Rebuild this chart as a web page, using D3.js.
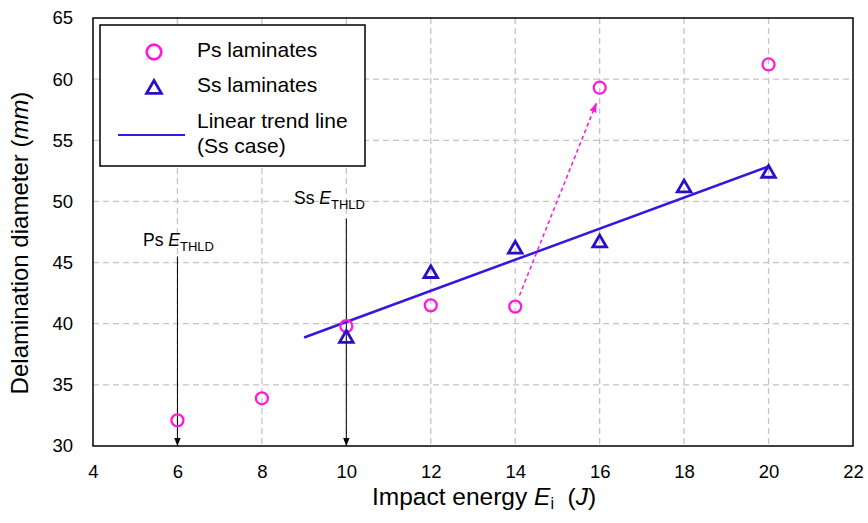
<!DOCTYPE html>
<html>
<head>
<meta charset="utf-8">
<script src="https://cdn.jsdelivr.net/npm/d3@7"></script>
<style>
  html, body { margin: 0; padding: 0; background: #fff; }
  svg { display: block; font-family: "Liberation Sans", Arial, sans-serif; }
</style>
</head>
<body>
<svg id="chart" width="868" height="523"></svg>
<script>
// ---- data ----
const psEnergy = [6, 8, 10, 12, 14, 16, 20];
const psDiameter = [32.1, 33.9, 39.8, 41.5, 41.4, 59.3, 61.2];
const ssEnergy = [10, 12, 14, 16, 18, 20];
const ssDiameter = [38.8, 44.1, 46.1, 46.6, 51.1, 52.3];
const trendRange = [9, 20];
const xTicks = [4, 6, 8, 10, 12, 14, 16, 18, 20, 22];
const yTicks = [30, 35, 40, 45, 50, 55, 60, 65];
const thresholdEnergy = [6, 10];          // Ps, Ss
const thresholdLabelTop = [45.5, 48.6];   // value where arrows start
const jumpArrow = [[14.1, 42.3], [15.93, 58.1]];

// ---- layout ----
const svg = d3.select("#chart");
const x = d3.scaleLinear().domain([4, 22]).range([93, 853]);
const y = d3.scaleLinear().domain([30, 65]).range([446, 18]);

const defs = svg.append("defs");
defs.append("marker").attr("id", "arrBlack").attr("viewBox", "0 0 10 10")
  .attr("refX", 10).attr("refY", 5).attr("markerWidth", 8).attr("markerHeight", 8)
  .attr("markerUnits", "userSpaceOnUse").attr("orient", "auto")
  .append("path").attr("d", "M0,1 L10,5 L0,9 Z").attr("fill", "#000");
defs.append("marker").attr("id", "arrPink").attr("viewBox", "0 0 10 10")
  .attr("refX", 10).attr("refY", 5).attr("markerWidth", 10).attr("markerHeight", 10)
  .attr("markerUnits", "userSpaceOnUse").attr("orient", "auto")
  .append("path").attr("d", "M0,1.5 L10,5 L0,8.5 Z").attr("fill", "#ff1ad9");

// grid
const grid = svg.append("g").attr("stroke", "#c4c4c4").attr("stroke-width", 1.3)
  .attr("stroke-dasharray", "6,4");
grid.selectAll("line.v").data(xTicks.slice(1, -1)).join("line")
  .attr("x1", d => x(d)).attr("x2", d => x(d)).attr("y1", y(65)).attr("y2", y(30));
grid.selectAll("line.h").data(yTicks.slice(1, -1)).join("line")
  .attr("y1", d => y(d)).attr("y2", d => y(d)).attr("x1", x(4)).attr("x2", x(22));

// axes
const xAxis = svg.append("g").attr("transform", `translate(0,${y(30)})`)
  .call(d3.axisBottom(x).tickValues(xTicks).tickSize(0).tickPadding(19).tickFormat(d3.format("d")));
const yAxis = svg.append("g").attr("transform", `translate(${x(4)},0)`)
  .call(d3.axisLeft(y).tickValues(yTicks).tickSize(0).tickPadding(20).tickFormat(d3.format("d")));
[xAxis, yAxis].forEach(a => {
  a.select(".domain").remove();
  a.selectAll("text").attr("font-size", 18.5).attr("fill", "#000")
    .attr("font-family", "Liberation Sans, Arial, sans-serif");
});

// frame
svg.append("rect").attr("x", x(4)).attr("y", y(65))
  .attr("width", x(22) - x(4)).attr("height", y(30) - y(65))
  .attr("fill", "none").attr("stroke", "#000").attr("stroke-width", 1.5);

// threshold arrows
svg.selectAll("line.thr").data(thresholdEnergy).join("line")
  .attr("x1", d => x(d)).attr("x2", d => x(d))
  .attr("y1", (d, i) => y(thresholdLabelTop[i])).attr("y2", y(30))
  .attr("stroke", "#000").attr("stroke-width", 1)
  .attr("marker-end", "url(#arrBlack)");

function thldLabel(px, py, prefix) {
  const t = svg.append("text").attr("x", px).attr("y", py)
    .attr("font-size", 17.5).attr("fill", "#000");
  t.append("tspan").text(prefix + " ");
  t.append("tspan").attr("font-style", "italic").text("E");
  t.append("tspan").attr("font-size", 13).attr("dy", 5).text("THLD");
}
thldLabel(143, 246, "Ps");
thldLabel(294, 204, "Ss");

// linear trend line for Ss (least squares)
const mx = d3.mean(ssEnergy), my = d3.mean(ssDiameter);
const slope = d3.sum(ssEnergy, (e, i) => (e - mx) * (ssDiameter[i] - my)) /
              d3.sum(ssEnergy, e => (e - mx) * (e - mx));
const icpt = my - slope * mx;
svg.append("line")
  .attr("x1", x(trendRange[0])).attr("y1", y(icpt + slope * trendRange[0]))
  .attr("x2", x(trendRange[1])).attr("y2", y(icpt + slope * trendRange[1]))
  .attr("stroke", "#3517dd").attr("stroke-width", 2.5);

// pink dashed jump arrow
svg.append("line")
  .attr("x1", x(jumpArrow[0][0])).attr("y1", y(jumpArrow[0][1]))
  .attr("x2", x(jumpArrow[1][0])).attr("y2", y(jumpArrow[1][1]))
  .attr("stroke", "#ff1ad9").attr("stroke-width", 1.5)
  .attr("stroke-dasharray", "4,3").attr("marker-end", "url(#arrPink)");

// Ps circles
svg.selectAll("circle.ps").data(psEnergy).join("circle")
  .attr("cx", d => x(d)).attr("cy", (d, i) => y(psDiameter[i])).attr("r", 6)
  .attr("fill", "none").attr("stroke", "#ff1ad9").attr("stroke-width", 2.3);

// Ss triangles
const tri = d3.symbol().type(d3.symbolTriangle).size(80);
svg.selectAll("path.ss").data(ssEnergy).join("path")
  .attr("d", tri)
  .attr("transform", (d, i) => `translate(${x(d)},${y(ssDiameter[i])})`)
  .attr("fill", "none").attr("stroke", "#2a0fc6").attr("stroke-width", 2.8)
  .attr("stroke-linejoin", "miter");

// legend
const lg = svg.append("g");
lg.append("rect").attr("x", 100).attr("y", 25).attr("width", 265).attr("height", 141)
  .attr("fill", "#fff").attr("stroke", "#000").attr("stroke-width", 1.5);
lg.append("circle").attr("cx", 154).attr("cy", 52).attr("r", 7.3)
  .attr("fill", "none").attr("stroke", "#ff1ad9").attr("stroke-width", 2.7);
lg.append("path").attr("d", d3.symbol().type(d3.symbolTriangle).size(95))
  .attr("transform", "translate(154,89)")
  .attr("fill", "none").attr("stroke", "#2a0fc6").attr("stroke-width", 2.8);
lg.append("line").attr("x1", 118).attr("x2", 185).attr("y1", 135).attr("y2", 135)
  .attr("stroke", "#3517dd").attr("stroke-width", 2.2);
const legTexts = [["Ps laminates", 57], ["Ss laminates", 92], ["Linear trend line", 128], ["(Ss case)", 153]];
lg.selectAll("text").data(legTexts).join("text")
  .attr("x", 197).attr("y", d => d[1]).attr("font-size", 21).attr("fill", "#000")
  .text(d => d[0]);

// x title
const xt = svg.append("text").attr("x", 372).attr("y", 505)
  .attr("font-size", 24.5).attr("fill", "#000");
xt.append("tspan").text("Impact energy ");
xt.append("tspan").attr("font-style", "italic").text("E");
xt.append("tspan").attr("font-size", 16).attr("dy", 4).text("i");
xt.append("tspan").attr("dy", -4).text("\u00a0 (");
xt.append("tspan").attr("font-style", "italic").text("J");
xt.append("tspan").text(")");

// y title
const yt = svg.append("text").attr("transform", "translate(28,243) rotate(-90)")
  .attr("text-anchor", "middle").attr("font-size", 24).attr("fill", "#000");
yt.append("tspan").text("Delamination diameter (");
yt.append("tspan").attr("font-style", "italic").text("mm");
yt.append("tspan").text(")");
</script>
</body>
</html>
